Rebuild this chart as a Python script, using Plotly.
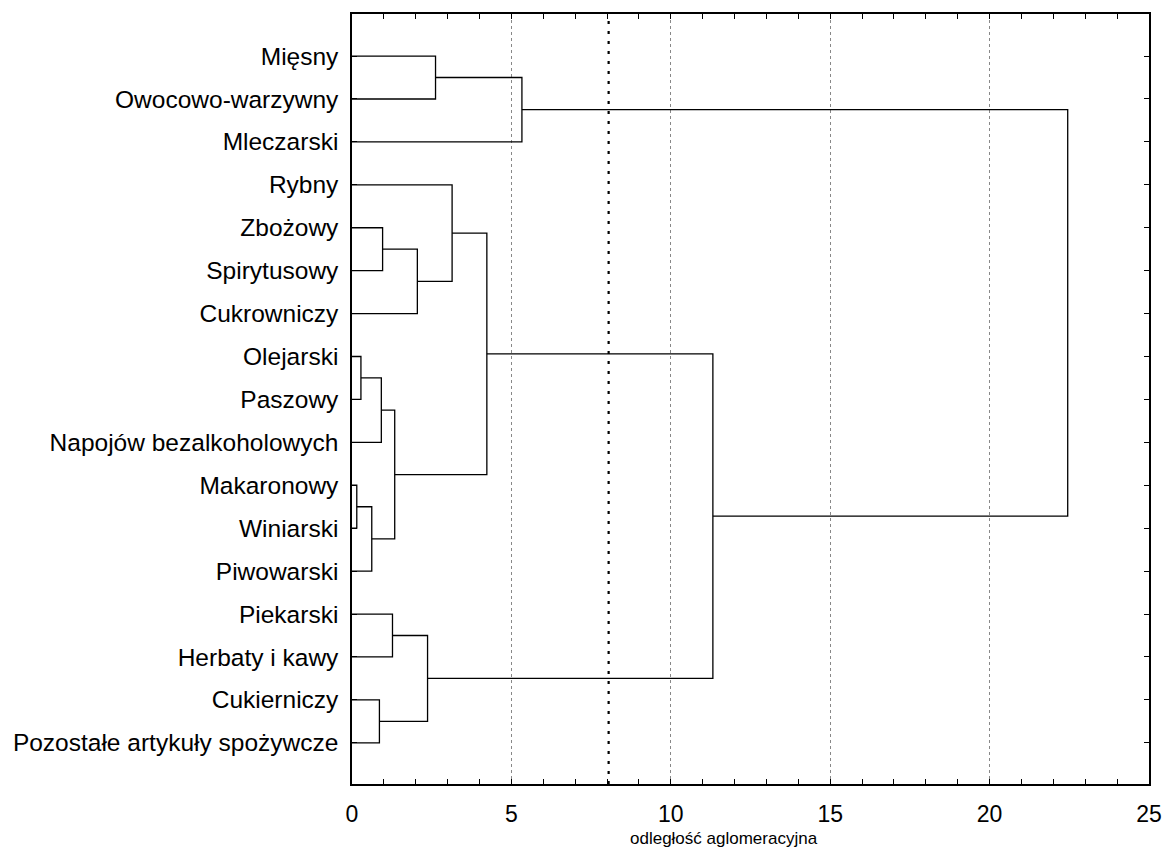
import plotly.graph_objects as go

# ---- data ----
labels = [
    "Mięsny", "Owocowo-warzywny", "Mleczarski", "Rybny", "Zbożowy",
    "Spirytusowy", "Cukrowniczy", "Olejarski", "Paszowy",
    "Napojów bezalkoholowych", "Makaronowy", "Winiarski", "Piwowarski",
    "Piekarski", "Herbaty i kawy", "Cukierniczy",
    "Pozostałe artykuły spożywcze",
]
# linkage: (child_a, child_b, distance); new cluster ids start at len(labels)
merge_a = [10, 7, 17, 15, 18, 4, 13, 21, 22, 23, 0, 3, 28, 27, 29, 31]
merge_b = [11, 8, 12, 16, 9, 5, 14, 19, 6, 20, 1, 25, 24, 2, 26, 30]
merge_h = [0.15, 0.28, 0.62, 0.86, 0.92, 0.96, 1.27, 1.34, 2.05, 2.37,
           2.62, 3.14, 4.23, 5.33, 11.32, 22.45]
cut_distance = 8.05
x_ticks = [0, 5, 10, 15, 20, 25]
x_title = "odległość aglomeracyjna"

# ---- build dendrogram paths ----
n = len(labels)
pos = {i: float(i) for i in range(n)}
height = {i: 0.0 for i in range(n)}
xs, ys = [], []
for k, (a, b, h) in enumerate(zip(merge_a, merge_b, merge_h)):
    xs += [height[a], h, h, height[b], None]
    ys += [pos[a], pos[a], pos[b], pos[b], None]
    nid = n + k
    pos[nid] = (pos[a] + pos[b]) / 2
    height[nid] = h

fig = go.Figure()
fig.add_trace(go.Scatter(x=xs, y=ys, mode="lines",
                         line=dict(color="black", width=1.3),
                         hoverinfo="skip", showlegend=False))

fig.add_shape(type="line", xref="x", yref="paper",
              x0=cut_distance, x1=cut_distance, y0=0, y1=1,
              line=dict(color="black", width=2.2, dash="3px,7px"))

FONT = "Liberation Sans, Arial, sans-serif"
fig.update_layout(
    width=1164, height=860,
    margin=dict(l=352, r=15, t=14, b=76, autoexpand=False),
    plot_bgcolor="white", paper_bgcolor="white",
    font=dict(family=FONT, color="black"),
    showlegend=False,
)
fig.update_xaxes(
    range=[0, 25], tickvals=x_ticks, ticktext=[str(v) for v in x_ticks],
    tickfont=dict(size=23, family=FONT), ticks="inside", ticklen=5,
    tickcolor="black", tickwidth=1.3,
    minor=dict(dtick=1, ticks="inside", ticklen=5, tickcolor="black",
               tickwidth=1.3, showgrid=False),
    showgrid=True, gridcolor="#888888", griddash="dot", gridwidth=1,
    showline=True, linecolor="black", linewidth=1.5, mirror="ticks",
    zeroline=False, ticklabelstandoff=9, automargin=False,
)
fig.update_yaxes(
    range=[16.96, -0.98], tickvals=list(range(n)), ticktext=labels,
    tickfont=dict(size=24.5, family=FONT), ticks="inside", ticklen=5,
    tickcolor="black", tickwidth=1.3,
    showgrid=False, showline=True, linecolor="black", linewidth=1.5,
    mirror="ticks", zeroline=False, ticklabelstandoff=7, automargin=False,
)
fig.add_annotation(text=x_title, xref="paper", yref="paper",
                   x=0.467, y=-0.071, xanchor="center", yanchor="middle",
                   showarrow=False, font=dict(size=17, family=FONT))

fig.write_html("out.html",
               config={"displayModeBar": False},
               post_script="document.body.style.margin='0';"
                           "document.body.style.overflow='hidden';")
